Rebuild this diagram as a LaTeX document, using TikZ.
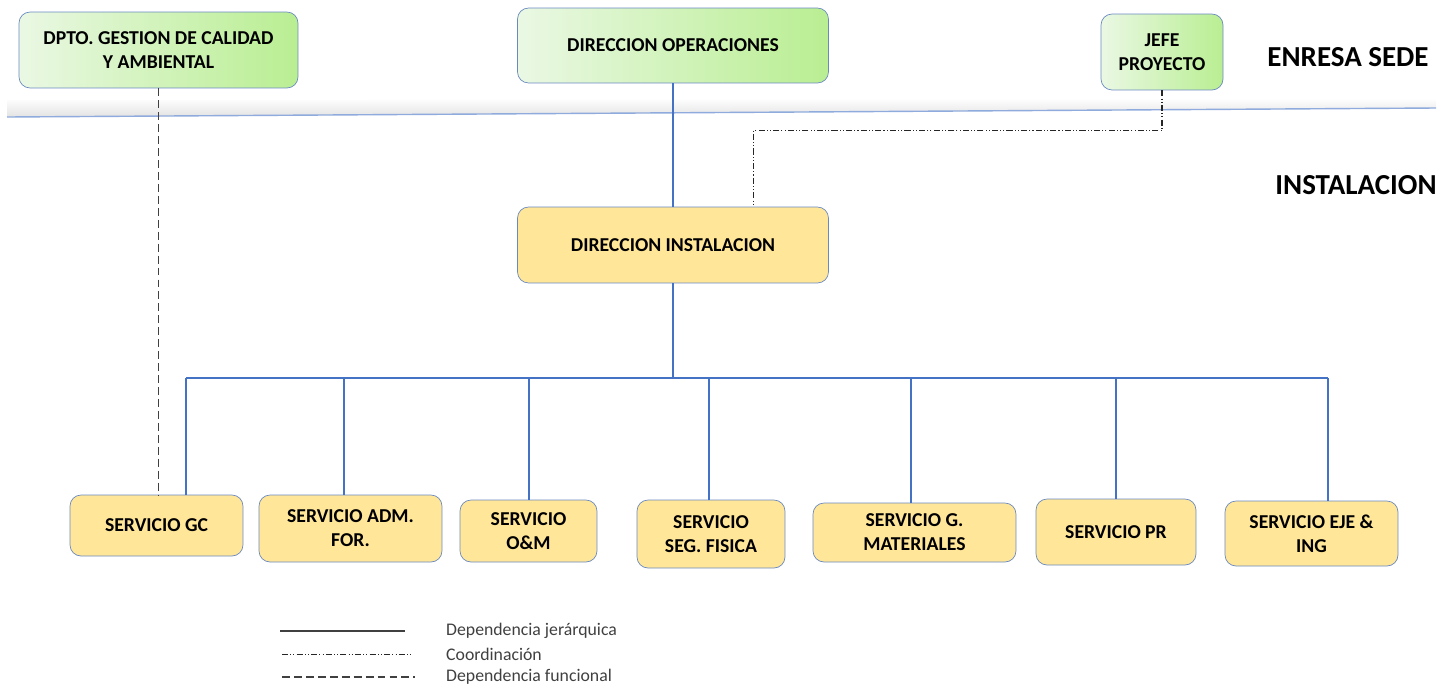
\documentclass[tikz,border=0pt]{standalone}
\usepackage{fontspec}
\setmainfont{Carlito}
\usepackage{xcolor}
\usetikzlibrary{arrows.meta}
\definecolor{borde}{HTML}{6A89C0}
\definecolor{linea}{HTML}{4472C4}
\definecolor{verdeA}{HTML}{EAF8E4}
\definecolor{verdeB}{HTML}{B9EE92}
\definecolor{amarillo}{HTML}{FFE699}
\definecolor{leyenda}{HTML}{404040}

\begin{document}
\begin{tikzpicture}[x=0.02cm,y=-0.02cm,
        caja/.style={draw=borde, rounded corners=0.22cm, inner sep=0pt, align=center,
            font=\fontsize{11.2}{13.6}\selectfont\bfseries},
        sede/.style={caja, left color=verdeA, right color=verdeB},
        inst/.style={caja, fill=amarillo},
        jerarquica/.style={draw=linea, line width=0.6pt},
        funcional/.style={draw=black!75, line width=0.8pt, dash pattern=on 4.5pt off 2.3pt},
        coordinacion/.style={draw=black!85, line width=0.6pt,
            dash pattern=on 3.5pt off 1.2pt on 0.6pt off 1.2pt on 0.6pt off 1.2pt},
        nivel/.style={font=\fontsize{16.5}{18}\selectfont\bfseries},
        etiqueta/.style={anchor=west, text=leyenda, font=\fontsize{10.1}{12}\selectfont}]
                \useasboundingbox (0,0) rectangle (1454,687);
                \shade[top color=white, bottom color=black!11] (7,100) -- (1436,98) -- (1436,108) -- (7,117) -- cycle;
                \draw[draw=linea!60, line width=0.8pt] (7,117) -- (1436,108);
                \node[nivel] (sede) at (1348,57) {ENRESA SEDE};
                \node[nivel] (instalacion) at (1356,185) {INSTALACION};
                \node[sede, minimum width=5.58cm, minimum height=1.52cm] (dpto) at (158.5,50) {DPTO. GESTION DE CALIDAD\\Y AMBIENTAL};
                \node[sede, minimum width=6.22cm, minimum height=1.5cm] (dirops) at (673,45.5) {DIRECCION OPERACIONES};
                \node[sede, minimum width=2.44cm, minimum height=1.52cm] (jefe) at (1162,52) {JEFE\\PROYECTO};
                \node[inst, minimum width=6.22cm, minimum height=1.52cm] (dirinst) at (673,245) {DIRECCION INSTALACION};
                \node[inst, minimum width=3.46cm, minimum height=1.22cm] (gc) at (156.5,525.5) {SERVICIO GC};
                \node[inst, minimum width=3.66cm, minimum height=1.34cm] (adm) at (350.5,528.5) {SERVICIO ADM.\\FOR.};
                \node[inst, minimum width=2.74cm, minimum height=1.24cm] (om) at (528.5,531) {SERVICIO\\O\&M};
                \node[inst, minimum width=2.96cm, minimum height=1.36cm] (seg) at (711,534) {SERVICIO\\SEG. FISICA};
                \node[inst, minimum width=4.06cm, minimum height=1.18cm] (mat) at (914.5,532.5) {SERVICIO G.\\MATERIALES};
                \node[inst, minimum width=3.2cm, minimum height=1.32cm] (pr) at (1116,532) {SERVICIO PR};
                \node[inst, minimum width=3.46cm, minimum height=1.3cm] (eje) at (1311.5,533.5) {SERVICIO EJE \&\\ING};
                \coordinate (b1) at (186,378);
                \coordinate (b2) at (344,378);
                \coordinate (b3) at (529,378);
                \coordinate (b4) at (709,378);
                \coordinate (b5) at (911,378);
                \coordinate (b6) at (1116,378);
                \coordinate (b7) at (1328,378);
                \coordinate (c1) at (753.5,130.5);
                \draw[jerarquica] (dirops.south) -- (dirinst.north);
                \draw[jerarquica] (dirinst.south) -- (dirinst.south |- b1);
                \draw[jerarquica] (b1) -- (b7);
                \draw[jerarquica] (b1) -- (b1 |- gc.north);
                \draw[jerarquica] (b2) -- (b2 |- adm.north);
                \draw[jerarquica] (b3) -- (b3 |- om.north);
                \draw[jerarquica] (b4) -- (b4 |- seg.north);
                \draw[jerarquica] (b5) -- (b5 |- mat.north);
                \draw[jerarquica] (b6) -- (b6 |- pr.north);
                \draw[jerarquica] (b7) -- (b7 |- eje.north);
                \draw[funcional] (dpto.south) -- (dpto.south |- gc.north);
                \draw[coordinacion] (jefe.south) |- (c1) -- (c1 |- dirinst.north);
                \node[etiqueta] (ljer) at (440,631) {Dependencia jerárquica};
                \node[etiqueta] (lcoo) at (440,654) {Coordinación};
                \node[etiqueta] (lfun) at (440,677) {Dependencia funcional};
                \coordinate (l1) at (280,631);
                \coordinate (l2) at (282,654.5);
                \coordinate (l3) at (282,677);
                \draw[draw=black!75, line width=0.6pt] (l1) -- (405,631);
                \draw[coordinacion] (l2) -- (412,654.5);
                \draw[funcional, line width=0.6pt] (l3) -- (415,677);
            \end{tikzpicture}
\end{document}
